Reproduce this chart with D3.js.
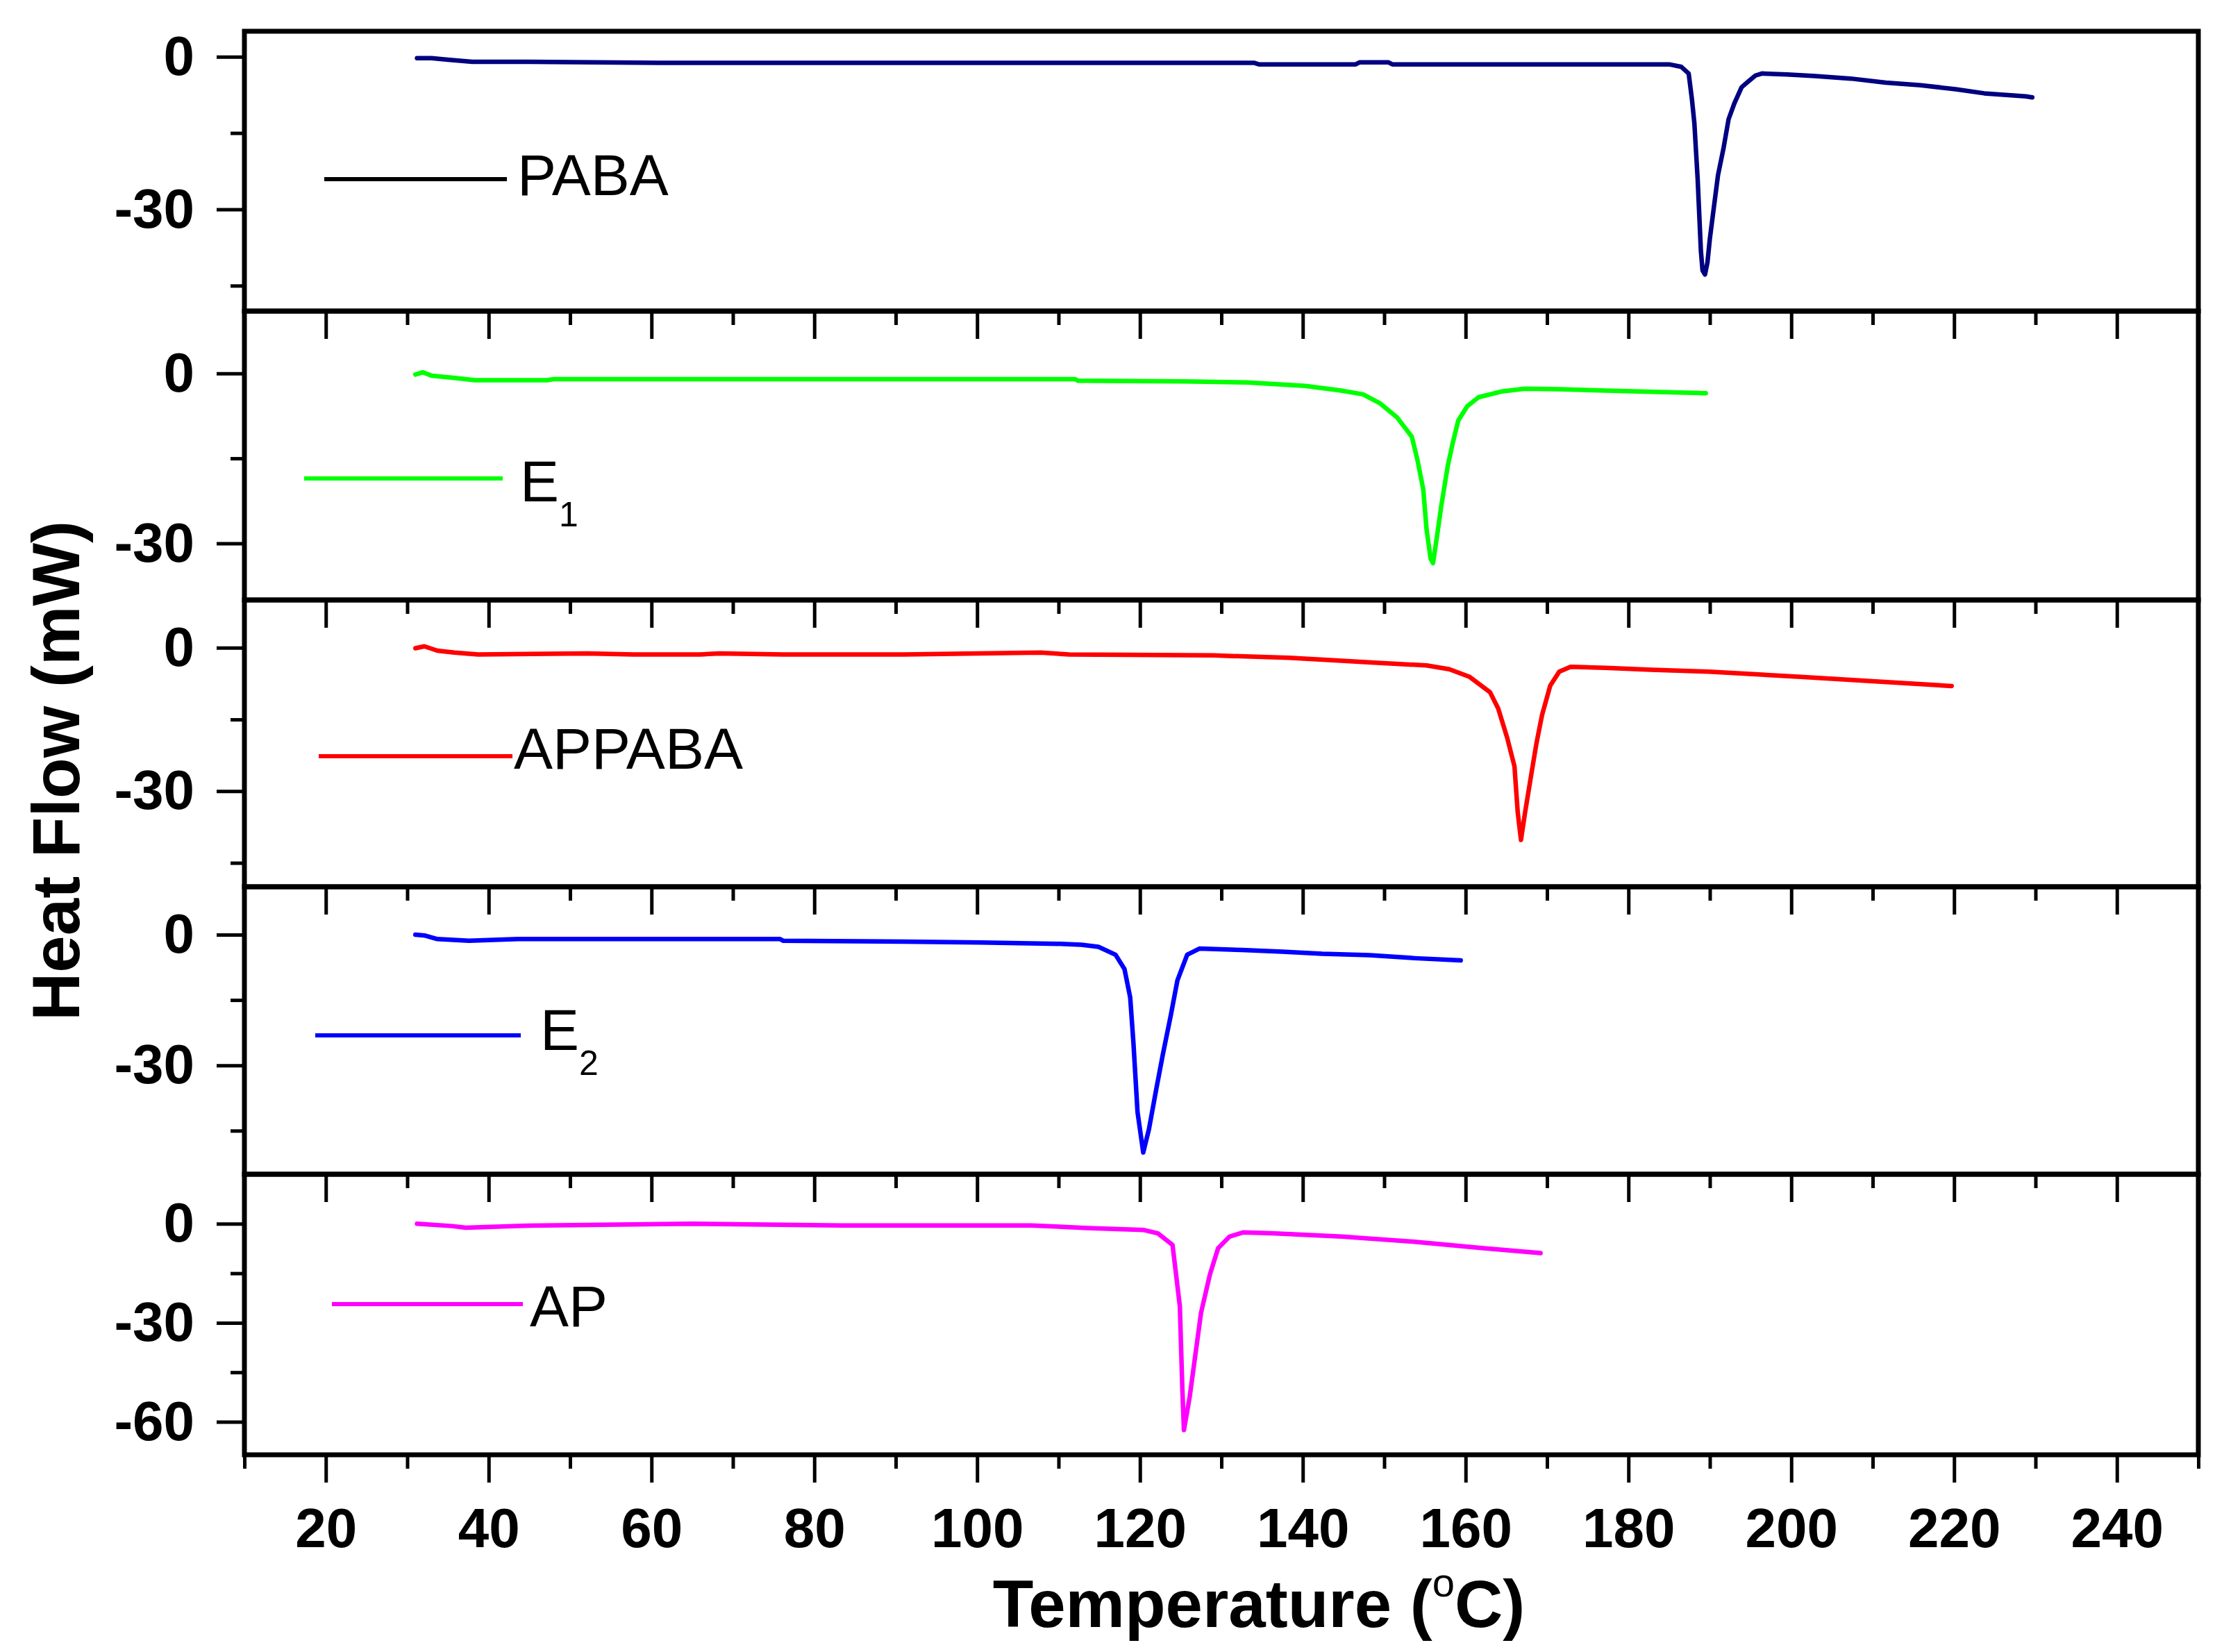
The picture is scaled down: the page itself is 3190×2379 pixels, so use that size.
<!DOCTYPE html>
<html>
<head>
<meta charset="utf-8">
<script src="https://cdn.jsdelivr.net/npm/d3@7/dist/d3.min.js"></script>
<style>
  body { margin: 0; background: #fff; }
  svg { display: block; font-family: "Liberation Sans", Arial, sans-serif; }
</style>
</head>
<body>
<div id="chart"></div>
<script>
// DSC traces, heat flow (mW) vs temperature (degC)
const pabaT = [31.2, 33, 35, 38, 45, 61, 80, 100, 134, 134.6, 146.5, 147, 150.5, 151, 160, 170, 180, 185, 186.5, 187.4, 187.8, 188.1, 188.3, 188.5, 188.7, 188.9, 189.1, 189.4, 189.7, 190, 190.5, 191, 191.7, 192.3, 193, 193.9, 194.7, 195.6, 196.4, 199.5, 202.9, 207.3, 211.6, 215.9, 220.2, 223.7, 228.8, 229.6];
const pabaH = [-0.3, -0.3, -0.6, -1.0, -1.0, -1.2, -1.2, -1.2, -1.2, -1.5, -1.5, -1.1, -1.1, -1.5, -1.5, -1.5, -1.5, -1.5, -2.0, -3.3, -8.4, -13.1, -18.6, -24, -31.1, -38.2, -42, -42.8, -40.5, -35.8, -29.5, -23.3, -17.8, -12.3, -9.2, -6.0, -4.9, -3.7, -3.3, -3.5, -3.8, -4.3, -5.1, -5.6, -6.4, -7.2, -7.8, -8.0];

const e1T = [31, 31.9, 33, 35.8, 38.3, 47.2, 48, 70, 91, 112, 112.4, 125.5, 133.2, 140.3, 144.6, 147.4, 149.5, 151.6, 153.4, 154.1, 154.8, 155.2, 155.7, 156, 156.5, 157, 157.8, 158.4, 159.1, 160.2, 161.6, 164.4, 167.3, 171.5, 181.3, 189.5];
const e1H = [-0.2, 0.2, -0.4, -0.8, -1.2, -1.2, -1.0, -1.0, -1.0, -1.0, -1.3, -1.4, -1.6, -2.2, -3.0, -3.7, -5.3, -7.8, -11.2, -15.4, -20.5, -27.5, -32.7, -33.5, -28.6, -23.5, -16.4, -12.4, -8.3, -5.8, -4.2, -3.2, -2.7, -2.8, -3.2, -3.5];

const appabaT = [31, 32.1, 33.7, 35.8, 38.7, 52.1, 57.8, 66, 68.3, 76.2, 91, 107.8, 111.3, 129, 138.3, 142.5, 148.8, 155.2, 158, 160.5, 163, 164, 165.1, 166, 166.4, 166.8, 167.3, 168, 168.7, 169.4, 170.4, 171.5, 172.9, 177.2, 182.8, 189.9, 201.2, 210, 219.7];
const appabaH = [-0.1, 0.3, -0.6, -1.0, -1.4, -1.2, -1.4, -1.4, -1.2, -1.4, -1.4, -1.0, -1.4, -1.6, -2.1, -2.5, -3.1, -3.7, -4.5, -6.1, -9.3, -12.7, -18.8, -24.8, -34.4, -40.2, -34.5, -27.2, -20, -14, -7.9, -5.0, -4.0, -4.2, -4.6, -5.0, -6.1, -7.0, -8.0];

const e2T = [31, 32.2, 33.7, 37.6, 43.6, 75.8, 76.2, 91, 100.4, 110.3, 112.8, 114.9, 117, 118.1, 118.8, 119.2, 119.7, 120.4, 121.1, 122, 122.8, 123.8, 124.6, 125.8, 127.3, 132.5, 137.5, 142.4, 148.2, 153.8, 159.4];
const e2H = [0, -0.2, -1.0, -1.4, -1.0, -1.0, -1.4, -1.6, -1.8, -2.1, -2.3, -2.8, -4.6, -7.9, -14.4, -24.9, -40.7, -50, -44.7, -35.5, -27.6, -18.4, -10.5, -4.6, -3.2, -3.5, -3.9, -4.4, -4.7, -5.4, -5.9];

const apT = [31.2, 35.5, 37.2, 44.2, 65, 83.3, 106.6, 113.6, 120.5, 122.2, 124, 124.9, 125.2, 125.4, 126.1, 126.8, 127.5, 128.6, 129.6, 131, 132.7, 136.2, 144.8, 153.5, 162.2, 169.2];
const apH = [0, -0.7, -1.2, -0.6, 0, -0.5, -0.5, -1.3, -1.9, -2.9, -6.4, -25, -49.6, -62.5, -52.6, -39.8, -27, -15.3, -7.4, -3.9, -2.6, -2.9, -3.9, -5.4, -7.4, -8.9];

const seriesNames = ['PABA', 'E1', 'APPABA', 'E2', 'AP'];
const yDomains = [[-50, 5], [-40, 11], [-50, 10], [-55, 11], [-70, 15]];
const yMajorTicks = [[0, -30], [0, -30], [0, -30], [0, -30], [0, -30, -60]];
const yMinorTicks = [[-15, -45], [-15], [-15, -45], [-15, -45], [-15, -45]];
const xDomain = [10, 250];
const xMajorTicks = [20, 40, 60, 80, 100, 120, 140, 160, 180, 200, 220, 240];
const xMinorTicks = [10, 30, 50, 70, 90, 110, 130, 150, 170, 190, 210, 230, 250];

// styling / layout (kept apart from the data)
const colors = ['#000080', '#00ff00', '#ff0000', '#0000ff', '#ff00ff'];
const legendLineColors = ['#000000', '#00ff00', '#ff0000', '#0000ff', '#ff00ff'];
const W = 3190, H = 2379;
const plotLeft = 352, plotRight = 3166;
const panelEdges = [45, 448, 864, 1277, 1691, 2095];
const legendLayout = [
  { x1: 467, x2: 730, y: 258, tx: 745, ty: 281, sub: null },
  { x1: 438, x2: 724, y: 689, tx: 749, ty: 722, sub: '1' },
  { x1: 459, x2: 738, y: 1089, tx: 740, ty: 1107, sub: null },
  { x1: 454, x2: 750, y: 1491, tx: 778, ty: 1512, sub: '2' },
  { x1: 478, x2: 753, y: 1878, tx: 763, ty: 1910, sub: null }
];

const allSeries = [
  { t: pabaT, h: pabaH },
  { t: e1T, h: e1H },
  { t: appabaT, h: appabaH },
  { t: e2T, h: e2H },
  { t: apT, h: apH }
];

const svg = d3.select('#chart').append('svg')
  .attr('width', W)
  .attr('height', H);

svg.append('rect').attr('width', W).attr('height', H).attr('fill', '#fff');

const x = d3.scaleLinear().domain(xDomain).range([plotLeft, plotRight]);

function styleAxis(g) {
  g.select('.domain').remove();
  g.selectAll('.tick line').attr('stroke', '#000').attr('stroke-width', 5);
  g.selectAll('.tick text')
    .attr('fill', '#000')
    .style('font-size', '80px')
    .style('font-weight', 'bold');
}

seriesNames.forEach((name, i) => {
  const top = panelEdges[i], bottom = panelEdges[i + 1];
  const y = d3.scaleLinear().domain(yDomains[i]).range([bottom, top]);
  const isLast = i === seriesNames.length - 1;

  // y axis: major + minor ticks, outward
  svg.append('g')
    .attr('transform', `translate(${plotLeft},0)`)
    .call(d3.axisLeft(y).tickValues(yMajorTicks[i]).tickSize(40).tickPadding(32)
      .tickFormat(d => String(d)))
    .call(styleAxis);
  svg.append('g')
    .attr('transform', `translate(${plotLeft},0)`)
    .call(d3.axisLeft(y).tickValues(yMinorTicks[i]).tickSize(20).tickFormat(''))
    .call(styleAxis);

  // bottom axis ticks (outward, labels only on the last panel)
  svg.append('g')
    .attr('transform', `translate(0,${bottom})`)
    .call(d3.axisBottom(x).tickValues(xMajorTicks).tickSize(40).tickPadding(36)
      .tickFormat(isLast ? d => String(d) : ''))
    .call(styleAxis);
  svg.append('g')
    .attr('transform', `translate(0,${bottom})`)
    .call(d3.axisBottom(x).tickValues(xMinorTicks).tickSize(20).tickFormat(''))
    .call(styleAxis);

  // trace
  const pts = allSeries[i].t.map((t, k) => [t, allSeries[i].h[k]]);
  svg.append('path')
    .datum(pts)
    .attr('fill', 'none')
    .attr('stroke', colors[i])
    .attr('stroke-width', 6.5)
    .attr('stroke-linejoin', 'round')
    .attr('stroke-linecap', 'round')
    .attr('d', d3.line().x(d => x(d[0])).y(d => y(d[1])));

  // panel frame
  svg.append('rect')
    .attr('x', plotLeft)
    .attr('y', top)
    .attr('width', plotRight - plotLeft)
    .attr('height', bottom - top)
    .attr('fill', 'none')
    .attr('stroke', '#000')
    .attr('stroke-width', 7);

  // legend entry
  const L = legendLayout[i];
  svg.append('line')
    .attr('x1', L.x1).attr('x2', L.x2)
    .attr('y1', L.y).attr('y2', L.y)
    .attr('stroke', legendLineColors[i])
    .attr('stroke-width', 6);
  const txt = svg.append('text')
    .attr('x', L.tx)
    .attr('y', L.ty)
    .style('font-size', '84px')
    .attr('fill', '#000');
  if (L.sub) {
    txt.append('tspan').text(name.charAt(0));
    txt.append('tspan').attr('dy', 36).style('font-size', '50px').text(L.sub);
  } else {
    txt.text(name);
  }
});

// axis titles
svg.append('text')
  .attr('transform', 'translate(114,1110) rotate(-90)')
  .attr('text-anchor', 'middle')
  .style('font-size', '96px')
  .style('font-weight', 'bold')
  .text('Heat Flow (mW)');

const xt = svg.append('text')
  .attr('x', 1813)
  .attr('y', 2343)
  .attr('text-anchor', 'middle')
  .style('font-size', '96px')
  .style('font-weight', 'bold');
xt.append('tspan').text('Temperature (');
xt.append('tspan').attr('dy', -44).style('font-size', '58px').style('font-weight', 'normal').text('o');
xt.append('tspan').attr('dy', 44).text('C)');
</script>
</body>
</html>
